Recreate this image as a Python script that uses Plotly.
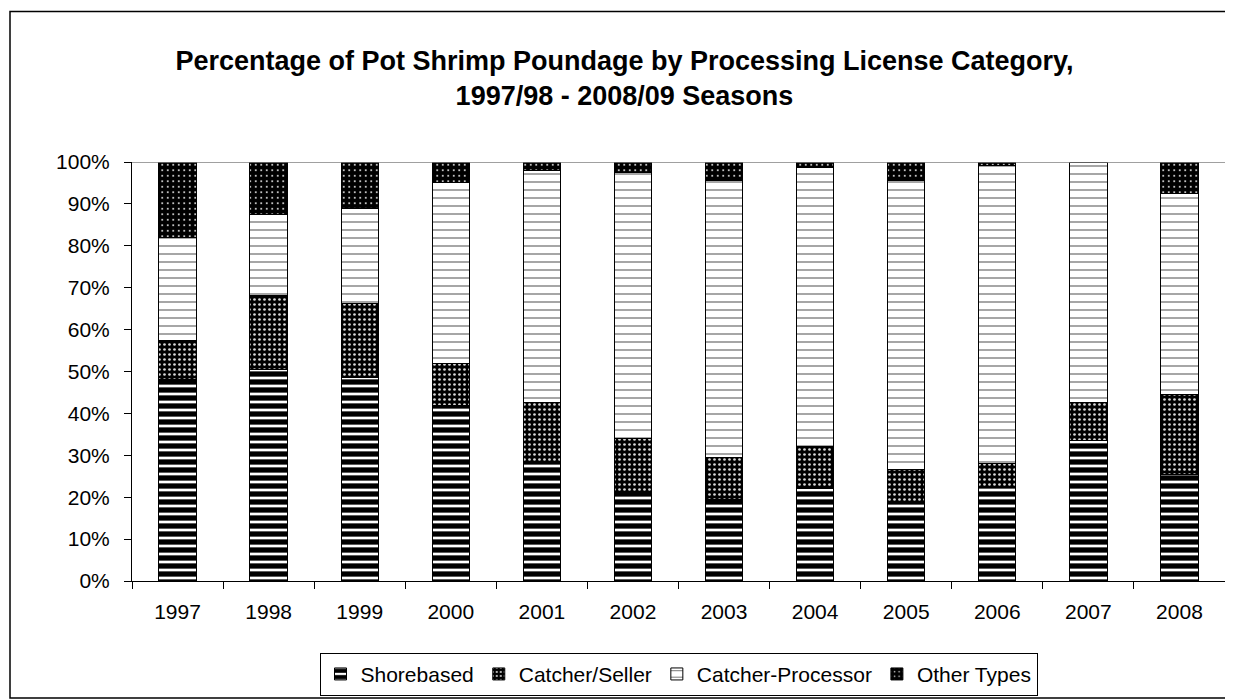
import plotly.graph_objects as go

years = ["1997", "1998", "1999", "2000", "2001", "2002", "2003", "2004", "2005", "2006", "2007", "2008"]
shorebased = [48, 50.5, 48.5, 42, 28, 21, 19.5, 22, 19, 22.5, 33.5, 25.5]
catcher_seller = [9.3, 17.7, 17.8, 10, 14.5, 13, 10, 10, 7.5, 5.5, 9, 19]
catcher_processor = [24.7, 19.2, 22.7, 43.1, 55.5, 63.4, 66.2, 66.6, 69, 71.1, 57.5, 48]
other_types = [18, 12.6, 11, 4.9, 2, 2.6, 4.3, 1.4, 4.5, 0.9, 0, 7.5]
y_ticks = [0, 10, 20, 30, 40, 50, 60, 70, 80, 90, 100]
y_ticktext = ["0%", "10%", "20%", "30%", "40%", "50%", "60%", "70%", "80%", "90%", "100%"]

FONT = "Liberation Sans, Arial, sans-serif"
W, H = 1233, 700
L, R, T, B = 124, 16, 154, 120
PW, PH = W - L - R, H - T - B

series = [
    ("Shorebased", shorebased, dict(shape="-", fgcolor="black", bgcolor="white", size=8, solidity=0.66, fgopacity=1)),
    ("Catcher/Seller", catcher_seller, dict(shape=".", fgcolor="#d8d8d8", bgcolor="black", size=5, solidity=0.22, fgopacity=1)),
    ("Catcher-Processor", catcher_processor, dict(shape="-", fgcolor="#6a6a6a", bgcolor="white", size=8, solidity=0.15, fgopacity=1)),
    ("Other Types", other_types, dict(shape=".", fgcolor="white", bgcolor="black", size=5.5, solidity=0.09, fgopacity=1)),
]

fig = go.Figure()
for name, vals, pat in series:
    fig.add_trace(go.Bar(
        x=years, y=vals, name=name,
        marker=dict(color=pat["bgcolor"], line=dict(color="black", width=1), pattern=pat),
    ))


def px_x(px):
    return (px - L) / PW


def px_y(py):
    return (H - B - py) / PH


fig.update_layout(
    width=W, height=H,
    barmode="stack", bargap=0.59,
    plot_bgcolor="white", paper_bgcolor="white",
    margin=dict(l=L, r=R, t=T, b=B),
    font=dict(family=FONT, size=21, color="black"),
    title=dict(
        text="<b>Percentage of Pot Shrimp Poundage by Processing License Category,<br>1997/98 - 2008/09 Seasons</b>",
        x=0.5, xanchor="center", xref="container",
        y=1 - 62 / H, yanchor="middle", yref="container",
        font=dict(family=FONT, size=27, color="black"),
    ),
    xaxis=dict(
        type="category", showline=True, linecolor="black", linewidth=1,
        ticks="outside", ticklen=7, tickcolor="black", tickson="boundaries",
        showgrid=False, ticklabelstandoff=12,
    ),
    yaxis=dict(
        range=[0, 100], tickvals=y_ticks, ticktext=y_ticktext,
        showline=True, linecolor="black", linewidth=1,
        ticks="outside", ticklen=7, tickcolor="black",
        showgrid=False, zeroline=False, ticklabelstandoff=10,
    ),
    legend=dict(
        orientation="h", x=0.5, xanchor="center", y=px_y(653), yanchor="top",
        bordercolor="black", borderwidth=1, bgcolor="white",
        font=dict(family=FONT, size=21, color="black"),
        traceorder="normal", itemclick=False,
    ),
    showlegend=True,
)

# grey line along the 100% level
fig.add_shape(type="line", xref="paper", yref="y", x0=0, x1=1, y0=100, y1=100,
              line=dict(color="#808080", width=1.5), layer="above")
# outer chart border
fig.add_shape(type="rect", xref="paper", yref="paper",
              x0=px_x(2), x1=px_x(1232), y0=px_y(1), y1=px_y(699),
              line=dict(color="black", width=1.5), layer="below")

fig.write_html("out.html")
